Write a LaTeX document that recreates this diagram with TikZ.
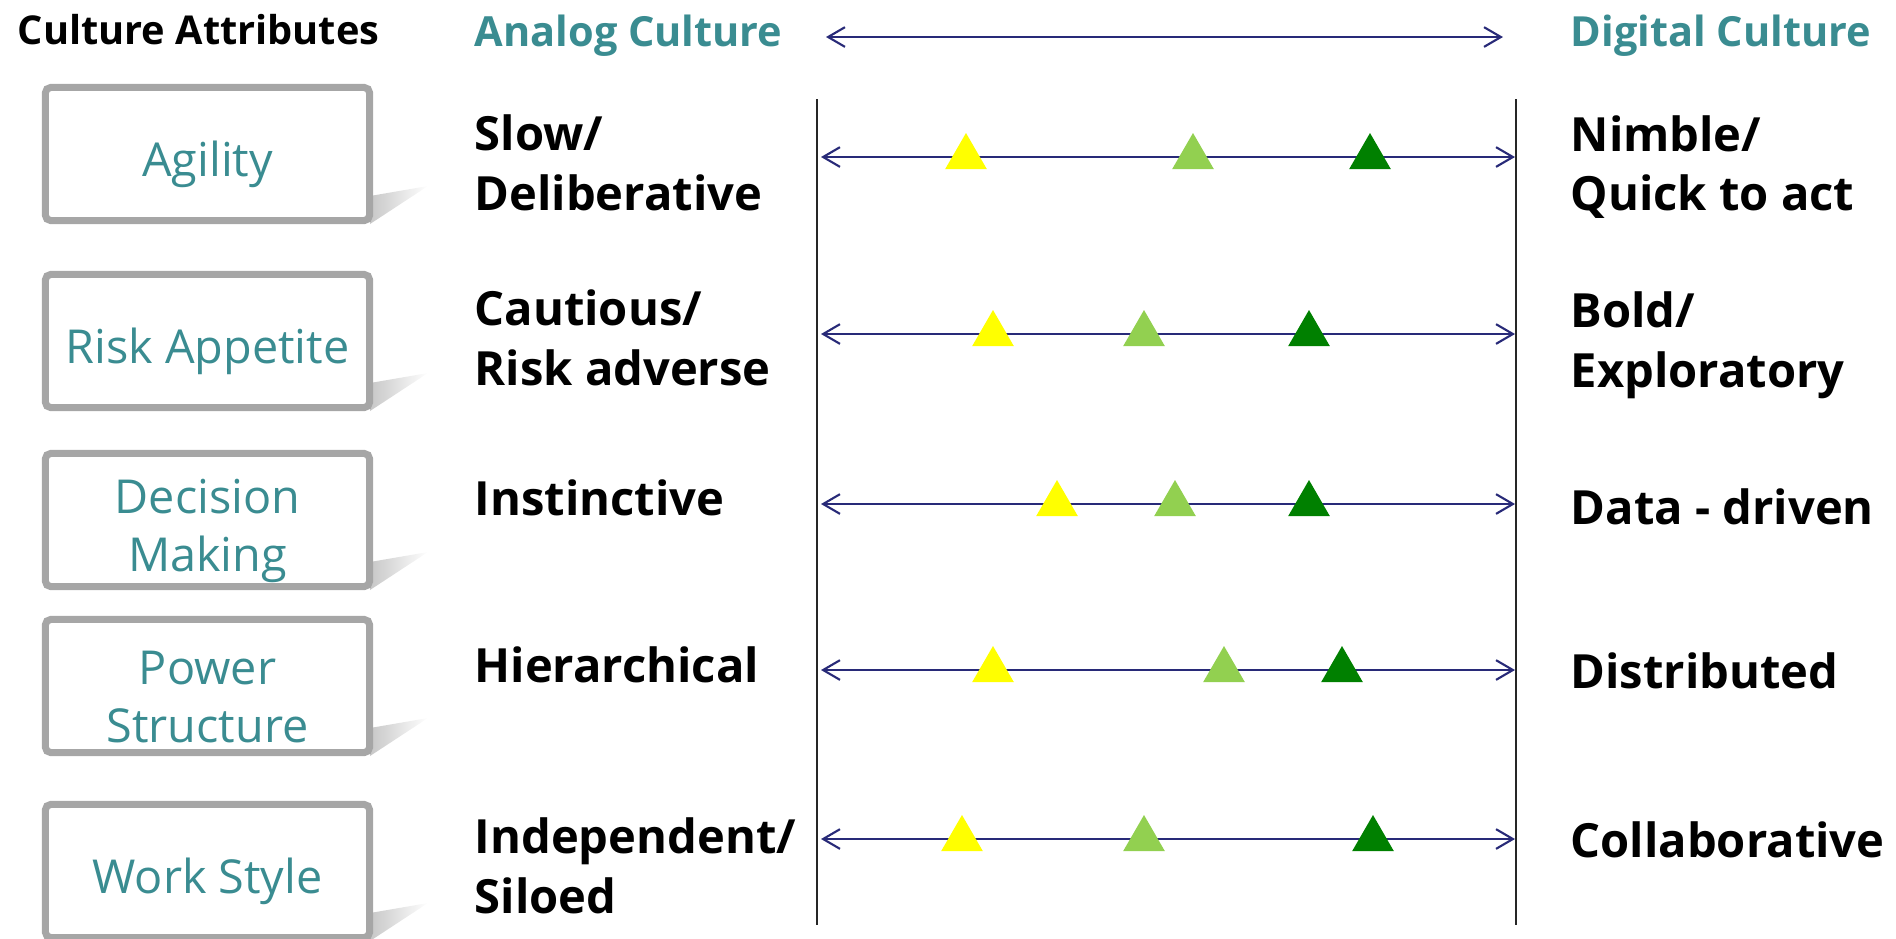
\documentclass[tikz,border=0pt]{standalone}
\usepackage{fontspec}
\setmainfont{Open Sans}
\usetikzlibrary{arrows.meta,shapes.geometric}
\definecolor{attrteal}{RGB}{58,140,145}
\definecolor{boxgray}{RGB}{166,166,166}
\definecolor{arrnavy}{RGB}{40,42,120}
\definecolor{ylw}{RGB}{255,255,0}
\definecolor{lgn}{RGB}{146,208,80}
\definecolor{dgn}{RGB}{0,128,0}
\tikzset{
  attrbox/.style={draw=boxgray, line width=2pt, fill=white, rounded corners=1.5pt,
    minimum width=3.24cm, minimum height=1.33cm,
    label={[attrtext]center:#1}},
  attrtext/.style={align=center, text=attrteal, yshift=-3pt,
    font=\fontsize{13.3}{16.5}\selectfont},
  hdr/.style={anchor=west, inner sep=0pt, font=\fontsize{11.8}{14}\selectfont\bfseries},
  pole/.style={anchor=west, inner sep=0pt, align=left, font=\fontsize{13.4}{17}\selectfont\bfseries},
  rowarrow/.style={draw=arrnavy, line width=0.6pt, <->},
  divider/.style={draw=black!85, line width=0.6pt},
  tri/.style={regular polygon, regular polygon sides=3, minimum size=0.48cm,
    inner sep=0pt, outer sep=0pt, draw=none},
  boxshadow/.style={left color=black!22, right color=white, draw=none}
}
\begin{document}
\begin{tikzpicture}[x=0.01cm, y=-0.01cm, >={Straight Barb[length=4.8pt,width=5.6pt]}]
\useasboundingbox (0,0) rectangle (1896,938);
% headers
\node [hdr, font=\fontsize{11.3}{14}\selectfont\bfseries] (cattr) at (17,30) {Culture Attributes};
\node [hdr, text=attrteal] (analog) at (474,36) {Analog Culture};
\node [hdr, text=attrteal] (digital) at (1570,36) {Digital Culture};
\coordinate (topl) at (826,37);
\coordinate (topr) at (1503,37);
\draw [rowarrow] (topl) -- (topr);
% shadows under the boxes
\shade [boxshadow] (370,196) -- (428,186) -- (370,224) -- cycle;
\shade [boxshadow] (370,383) -- (428,373) -- (370,411) -- cycle;
\shade [boxshadow] (370,562) -- (428,552) -- (370,590) -- cycle;
\shade [boxshadow] (370,728) -- (428,718) -- (370,756) -- cycle;
\shade [boxshadow] (370,913) -- (428,903) -- (370,941) -- cycle;
% attribute boxes
\node [attrbox={Agility}] (agility) at (207.5,154) {};
\node [attrbox={Risk Appetite}] (risk) at (207.5,341) {};
\node [attrbox={Decision\\Making}] (decision) at (207.5,520) {};
\node [attrbox={Power\\Structure}] (power) at (207.5,686) {};
\node [attrbox={Work Style}] (work) at (207.5,871) {};
% dividers
\coordinate (lt) at (817,99);
\coordinate (lb) at (817,925);
\coordinate (rt) at (1516,99);
\coordinate (rb) at (1516,925);
\draw [divider] (lt) -- (lb);
\draw [divider] (rt) -- (rb);
% analog side
\node [pole] (slow) at (474,163) {Slow/\\Deliberative};
\node [pole] (cautious) at (474,338) {Cautious/\\Risk adverse};
\node [pole] (instinct) at (474,498) {Instinctive};
\node [pole] (hier) at (474,665) {Hierarchical};
\node [pole] (indep) at (474,866) {Independent/\\Siloed};
% digital side
\node [pole] (nimble) at (1570,167) {Nimble/\\Quick to act};
\node [pole] (bold) at (1570,345) {Bold/\\Exploratory};
\node [pole] (data) at (1570,507) {Data - driven};
\node [pole] (distr) at (1570,671) {Distributed};
\node [pole] (collab) at (1570,840) {Collaborative};
% scales
\coordinate (l1) at (821,157);
\coordinate (r1) at (1515,157);
\coordinate (l2) at (821,334);
\coordinate (r2) at (1515,334);
\coordinate (l3) at (821,504);
\coordinate (r3) at (1515,504);
\coordinate (l4) at (821,670);
\coordinate (r4) at (1515,670);
\coordinate (l5) at (821,839);
\coordinate (r5) at (1515,839);
\draw [rowarrow] (l1) -- (r1);
\draw [rowarrow] (l2) -- (r2);
\draw [rowarrow] (l3) -- (r3);
\draw [rowarrow] (l4) -- (r4);
\draw [rowarrow] (l5) -- (r5);
% markers
\node [tri, fill=ylw] (ylw1) at (966,157) {};
\node [tri, fill=lgn] (lgn1) at (1193,157) {};
\node [tri, fill=dgn] (dgn1) at (1370,157) {};
\node [tri, fill=ylw] (ylw2) at (993,334) {};
\node [tri, fill=lgn] (lgn2) at (1144,334) {};
\node [tri, fill=dgn] (dgn2) at (1309,334) {};
\node [tri, fill=ylw] (ylw3) at (1057,504) {};
\node [tri, fill=lgn] (lgn3) at (1175,504) {};
\node [tri, fill=dgn] (dgn3) at (1309,504) {};
\node [tri, fill=ylw] (ylw4) at (993,670) {};
\node [tri, fill=lgn] (lgn4) at (1224,670) {};
\node [tri, fill=dgn] (dgn4) at (1342,670) {};
\node [tri, fill=ylw] (ylw5) at (962,839) {};
\node [tri, fill=lgn] (lgn5) at (1144,839) {};
\node [tri, fill=dgn] (dgn5) at (1373,839) {};
\end{tikzpicture}
\end{document}
